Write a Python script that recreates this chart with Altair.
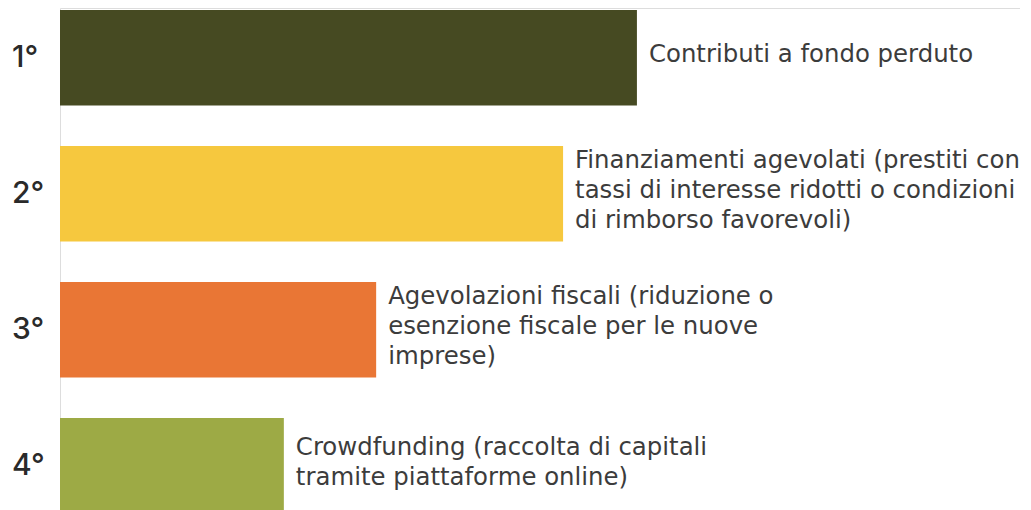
import altair as alt
import pandas as pd

ranks = ["1°", "2°", "3°", "4°"]
labels = [
    "Contributi a fondo perduto",
    "Finanziamenti agevolati (prestiti con\ntassi di interesse ridotti o condizioni\ndi rimborso favorevoli)",
    "Agevolazioni fiscali (riduzione o\nesenzione fiscale per le nuove\nimprese)",
    "Crowdfunding (raccolta di capitali\ntramite piattaforme online)",
]
values = [100, 87.2, 54.8, 38.8]
colors = ["#464A22", "#F6C83E", "#E97635", "#9DAA45"]

df = pd.DataFrame({"rank": ranks, "label": labels, "value": values, "color": colors})
df["nlines"] = df["label"].str.count("\n") + 1

y_enc = alt.Y("rank:N", sort=ranks, axis=None,
              scale=alt.Scale(range=[2, 505.5], paddingInner=0.298, paddingOuter=0))
x_enc = alt.X("value:Q", axis=None, scale=alt.Scale(domain=[0, 166.4], nice=False))

base = alt.Chart(df)

bars = base.mark_bar(clip=True, cornerRadius=0).encode(
    x=x_enc, y=y_enc,
    color=alt.Color("color:N", scale=None),
)

line_h = 30
text_layers = []
for n in (1, 2, 3):
    text_layers.append(
        base.transform_filter(alt.datum.nlines == n).mark_text(
            align="left", baseline="middle", dx=12, dy=-(n - 1) * line_h / 2 - 3,
            fontSize=24.4, font="DejaVu Sans", color="#3c3c3c",
            lineBreak="\n", lineHeight=line_h,
        ).encode(x=x_enc, y=y_enc, text="label:N")
    )

rank_text = base.mark_text(align="left", baseline="middle", fontSize=30,
                           font="Inter", fontWeight=500, color="#2a2a2a").encode(
    x=alt.value(-48), y=y_enc, text="rank:N",
)

chart = alt.layer(bars, *text_layers, rank_text).properties(
    width=960, height=502,
    autosize=alt.AutoSizeParams(type="none"),
    padding={"left": 52, "top": 0, "right": 0, "bottom": 0},
).configure_view(stroke=None).configure(background="white")

chart.save("out.html", embed_options={"renderer": "svg", "actions": False})
